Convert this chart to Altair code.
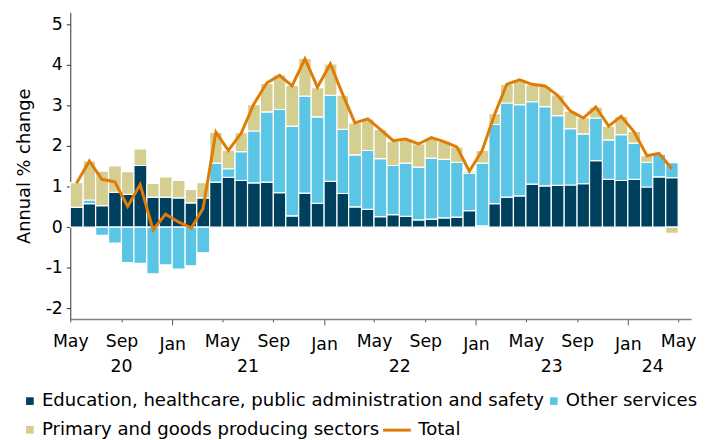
import altair as alt
import pandas as pd

# Monthly data, May 2020 .. Apr 2024
month_starts = pd.date_range("2020-05-01", periods=48, freq="MS")

edu = [0.49, 0.58, 0.53, 0.86, 0.81, 1.52, 0.74, 0.74, 0.72, 0.60, 0.72, 1.11,
       1.23, 1.15, 1.09, 1.11, 0.85, 0.28, 0.84, 0.59, 1.13, 0.83, 0.50, 0.44,
       0.26, 0.31, 0.27, 0.18, 0.20, 0.23, 0.25, 0.41, 0.03, 0.58, 0.74, 0.77,
       1.06, 1.02, 1.03, 1.04, 1.07, 1.64, 1.18, 1.15, 1.18, 0.99, 1.24, 1.22]
other = [0.00, 0.09, -0.20, -0.39, -0.87, -0.89, -1.15, -0.93, -1.03, -0.95, -0.63, 0.47,
         0.21, 0.71, 1.28, 1.73, 2.05, 2.21, 2.39, 2.13, 2.12, 1.58, 1.28, 1.45,
         1.43, 1.21, 1.31, 1.30, 1.50, 1.44, 1.35, 0.92, 1.55, 1.95, 2.32, 2.25,
         2.03, 1.95, 1.72, 1.39, 1.23, 1.05, 0.97, 1.13, 0.89, 0.61, 0.56, 0.37]
primary = [0.61, 0.96, 0.85, 0.65, 0.56, 0.41, 0.34, 0.50, 0.43, 0.33, 0.38, 0.76,
           0.45, 0.47, 0.65, 0.70, 0.85, 1.00, 0.93, 0.72, 0.77, 0.84, 0.79, 0.78,
           0.72, 0.60, 0.57, 0.57, 0.50, 0.45, 0.38, 0.05, 0.31, 0.27, 0.46, 0.61,
           0.42, 0.50, 0.51, 0.43, 0.40, 0.27, 0.34, 0.45, 0.29, 0.16, 0.02, -0.15]
total = [1.08, 1.63, 1.18, 1.12, 0.51, 1.05, -0.07, 0.32, 0.13, -0.02, 0.46, 2.34,
         1.89, 2.32, 3.03, 3.55, 3.74, 3.48, 4.15, 3.45, 4.02, 3.24, 2.57, 2.67,
         2.41, 2.13, 2.17, 2.05, 2.21, 2.11, 1.98, 1.38, 1.89, 2.81, 3.52, 3.63,
         3.52, 3.48, 3.25, 2.86, 2.69, 2.96, 2.49, 2.73, 2.35, 1.76, 1.82, 1.44]

series_names = ["Education, healthcare, public administration and safety",
                "Other services",
                "Primary and goods producing sectors"]
series_colors = ["#00405F", "#5BC5E6", "#D4CF90"]
line_color = "#E07C05"

year_labels = ["20", "21", "22", "23", "24"]
year_centers = ["2020-09-01T00:00:00", "2021-07-02T00:00:00", "2022-07-02T00:00:00",
                "2023-07-02T00:00:00", "2024-03-01T00:00:00"]

FONT = "DejaVu Sans"
W, H = 628, 310
AX_FS = 17.5
LEG_FS = 18.3

fmt = "%Y-%m-%dT%H:%M:%S"
rows = []
for i, ms in enumerate(month_starts):
    me = ms + pd.offsets.MonthBegin(1)
    for k, vals in enumerate([edu, other, primary]):
        rows.append({"start": ms.strftime(fmt), "end": me.strftime(fmt),
                     "series": series_names[k], "order": k, "value": vals[i]})
bars_df = pd.DataFrame(rows)

line_df = pd.DataFrame({
    "mid": [(ms + pd.Timedelta(days=15)).strftime(fmt) for ms in month_starts],
    "total": total,
    "name": ["Total"] * len(total),
})

year_df = pd.DataFrame({"date": year_centers, "label": year_labels})

tick_values = [alt.DateTime(year=d.year, month=d.month, date=1)
               for d in pd.date_range("2020-05-01", "2024-05-01", freq="4MS")]

x_scale = alt.Scale(domain=[alt.DateTime(year=2020, month=5, date=1),
                            alt.DateTime(year=2024, month=6, date=1)])
x_axis = alt.Axis(
    title=None, values=tick_values, labelExpr="timeFormat(datum.value, '%b')",
    tickSize={"condition": {"test": "month(datum.value) == 0", "value": 6}, "value": 3},
    labelFlush=False, labelOverlap=False, grid=False,
    labelFontSize=AX_FS, labelColor="#000000", labelPadding=11,
    domainColor="#808080", domainWidth=1.5, tickColor="#555555",
)
y_scale = alt.Scale(domain=[-2.26, 5.29], nice=False, zero=False)
y_axis = alt.Axis(
    title="Annual % change", values=list(range(-2, 6)), grid=False,
    labelExpr="datum.value < 0 ? '-' + abs(datum.value) : '' + datum.value",
    labelFontSize=AX_FS, labelColor="#000000", titleFontSize=18,
    titleFontWeight="normal", titleColor="#000000", tickSize=4, labelPadding=4,
    titlePadding=12, domainColor="#333333", tickColor="#333333",
)

bars = alt.Chart(bars_df).transform_stack(
    stack="value", groupby=["start"], as_=["v0", "v1"],
    sort=[alt.SortField("order", order="ascending")], offset="zero",
).mark_bar(stroke="white", strokeWidth=1.2).encode(
    x=alt.X("start:T", scale=x_scale, axis=x_axis),
    x2="end:T",
    y=alt.Y("v0:Q", scale=y_scale, axis=y_axis),
    y2="v1:Q",
    color=alt.Color("series:N",
                    scale=alt.Scale(domain=series_names, range=series_colors),
                    legend=alt.Legend(title=None, orient="none", legendX=-50, legendY=384,
                                      direction="horizontal",
                                      columns=2, gridAlign="none", symbolType="square",
                                      symbolSize=60, labelFontSize=LEG_FS,
                                      labelColor="#000000",
                                      columnPadding=0, rowPadding=10, labelOffset=3,
                                      symbolStrokeWidth=0)),
)

line = alt.Chart(line_df).mark_line(strokeWidth=3).encode(
    x=alt.X("mid:T", scale=x_scale, axis=x_axis),
    y=alt.Y("total:Q", scale=y_scale, axis=y_axis),
    stroke=alt.Stroke("name:N", scale=alt.Scale(domain=["Total"], range=[line_color]),
                      legend=alt.Legend(title=None, orient="none", legendX=315, legendY=407,
                                        symbolType="stroke", symbolSize=784,
                                        symbolStrokeWidth=3, labelFontSize=LEG_FS,
                                        labelColor="#000000", labelOffset=6)),
)

years = alt.Chart(year_df).mark_text(fontSize=AX_FS, color="#000000", font=FONT,
                                     baseline="middle").encode(
    x=alt.X("date:T", scale=x_scale, axis=x_axis),
    y=alt.value(H + 49),
    text="label:N",
)

chart = alt.layer(bars, line, years).properties(
    width=W, height=H, padding={"left": 7, "top": 2, "right": 0, "bottom": 2}
).configure(font=FONT).configure_view(stroke=None).configure_legend(
    labelFont=FONT, labelLimit=0
)

chart.save("out.html", embed_options={"renderer": "svg", "actions": False})
